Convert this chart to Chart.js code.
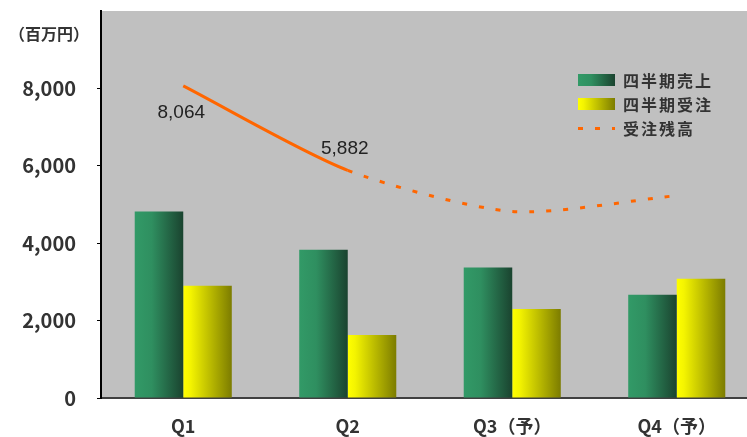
<!DOCTYPE html>
<html>
<head>
<meta charset="utf-8">
<script src="https://cdn.jsdelivr.net/npm/chart.js@4"></script>
<style>
  html, body { margin: 0; padding: 0; background: #fff; overflow: hidden; }
  #wrap { position: relative; width: 760px; height: 437px; }
  #unit {
    position: absolute; left: 9px; top: 21px; line-height: 16px;
    font: bold 16px "Noto Sans CJK JP", sans-serif; color: #333;
  }
  #legend {
    position: absolute; left: 578px; top: 68px;
    font: bold 16px "Noto Sans CJK JP", sans-serif; color: #333;
  }
  .row { display: flex; align-items: center; height: 24px; }
  .sw { width: 37px; height: 12px; margin-right: 8px; }
  .sw.green { background: linear-gradient(to right, #329a67 0%, #2f8f60 35%, #1a432f 100%); }
  .sw.yellow { background: linear-gradient(to right, #ffff00 0%, #f4f400 15%, #7c7c00 100%); }
  .sw.dash { height: 3px; background: repeating-linear-gradient(to right, #ff6600 0 5px, transparent 5px 17px); }
  .txt { letter-spacing: 2px; }
</style>
</head>
<body>
<div id="wrap">
  <canvas id="chart" width="760" height="437" style="width:760px;height:437px"></canvas>
  <div id="unit">（百万円）</div>
  <div id="legend"></div>
</div>
<script>
const $ = (id) => document.getElementById(id);

// values
const quarters = ["Q1", "Q2", "Q3（予）", "Q4（予）"];
const sales = [4820, 3830, 3370, 2670];
const orders = [2900, 1630, 2300, 3080];
const backlog = [8064, 5882, 4820, 5230];
const backlogLabels = ["8,064", "5,882", "", ""];
const yTicks = [0, 2000, 4000, 6000, 8000];

const seriesNames = ["四半期売上", "四半期受注", "受注残高"];
const CAT_PCT = 0.59;

function barFill(ctx, stops, side) {
  const chart = ctx.chart;
  const x = chart.scales.x;
  if (!chart.chartArea || !x) return stops[0][1];
  const center = x.getPixelForValue(ctx.dataIndex);
  const w = (x.width / quarters.length) * CAT_PCT / 2;
  const left = side === 0 ? center - w : center;
  const g = chart.ctx.createLinearGradient(left, 0, left + w, 0);
  for (const [p, c] of stops) g.addColorStop(p, c);
  return g;
}

const greenStops = [[0, "#329a67"], [0.35, "#2f8f60"], [1, "#1a432f"]];
const yellowStops = [[0, "#ffff00"], [0.15, "#f4f400"], [1, "#7c7c00"]];

const plotBg = {
  id: "plotBg",
  beforeDraw(chart) {
    const { ctx, chartArea: a } = chart;
    ctx.save();
    ctx.fillStyle = "#c0c0c0";
    ctx.fillRect(a.left, a.top, a.width, a.height);
    ctx.restore();
  },
};

// value labels next to the backlog line
const lineLabels = {
  id: "lineLabels",
  afterDatasetsDraw(chart) {
    const meta = chart.getDatasetMeta(0);
    const offs = [[-2, 27], [-3, -22]];
    const { ctx } = chart;
    ctx.save();
    ctx.font = '19px "Liberation Sans", Arial, sans-serif';
    ctx.fillStyle = "#222";
    ctx.textAlign = "center";
    ctx.textBaseline = "middle";
    meta.data.forEach((pt, i) => {
      if (!backlogLabels[i]) return;
      const [dx, dy] = offs[i] || [0, -20];
      ctx.fillText(backlogLabels[i], pt.x + dx, pt.y + dy);
    });
    ctx.restore();
  },
};

new Chart($("chart"), {
  type: "bar",
  data: {
    labels: quarters,
    datasets: [
      {
        type: "line",
        label: seriesNames[2],
        data: backlog,
        borderColor: "#ff6600",
        borderWidth: 3,
        pointRadius: 0,
        tension: 0.25,
        fill: false,
        order: 0,
        segment: { borderDash: (c) => (c.p0DataIndex >= 1 ? [5, 12] : undefined) },
      },
      {
        label: seriesNames[0],
        data: sales,
        backgroundColor: (c) => barFill(c, greenStops, 0),
        categoryPercentage: CAT_PCT,
        barPercentage: 1,
        order: 1,
      },
      {
        label: seriesNames[1],
        data: orders,
        backgroundColor: (c) => barFill(c, yellowStops, 1),
        categoryPercentage: CAT_PCT,
        barPercentage: 1,
        order: 1,
      },
    ],
  },
  options: {
    responsive: false,
    animation: false,
    devicePixelRatio: 1,
    layout: { padding: { top: 11, right: 1, left: 0, bottom: 0 } },
    plugins: { legend: { display: false }, tooltip: { enabled: false } },
    scales: {
      x: {
        afterFit: (s) => { s.height = 39; s.paddingLeft = 0; s.paddingRight = 0; },
        grid: { display: false, drawTicks: false },
        border: { color: "#404040", width: 2 },
        ticks: {
          color: "#333",
          padding: 17,
          font: { family: '"Noto Sans CJK JP", sans-serif', size: 18, weight: "bold" },
        },
      },
      y: {
        min: 0,
        max: 10000,
        afterFit: (s) => { s.width = 101; s.paddingTop = 0; s.paddingBottom = 0; },
        afterBuildTicks: (s) => { s.ticks = yTicks.map((v) => ({ value: v })); },
        grid: { drawOnChartArea: false, drawTicks: true, tickLength: 4, color: "#000" },
        border: { color: "#000", width: 2 },
        ticks: {
          color: "#333",
          padding: 21,
          font: { family: '"Noto Sans CJK JP", sans-serif', size: 20, weight: "bold" },
          callback: (v) => v.toLocaleString("en-US"),
        },
      },
    },
  },
  plugins: [plotBg, lineLabels],
});

function renderLegend() {
  const kinds = ["green", "yellow", "dash"];
  const el = $("legend");
  el.innerHTML = "";
  seriesNames.forEach((name, i) => {
    const row = document.createElement("div");
    row.className = "row";
    row.innerHTML = `<span class="sw ${kinds[i]}"></span><span class="txt">${name}</span>`;
    el.appendChild(row);
  });
}

renderLegend();
</script>
</body>
</html>
